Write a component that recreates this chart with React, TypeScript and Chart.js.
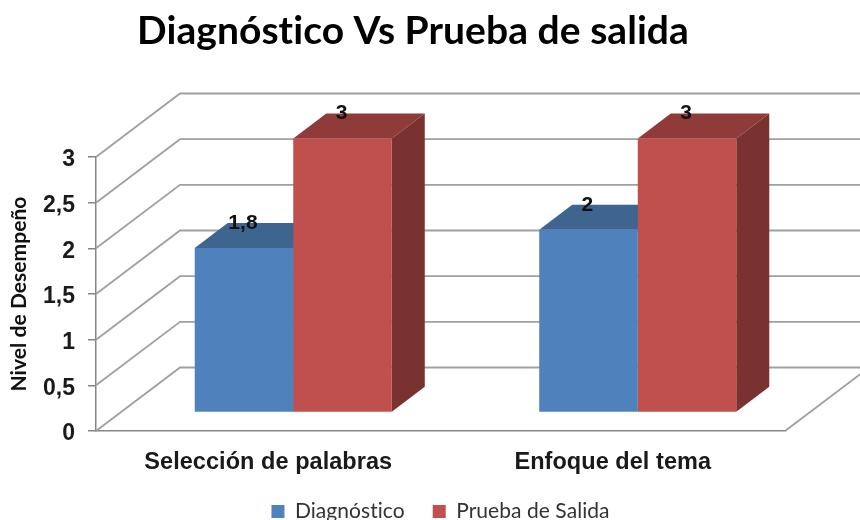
import React, { useEffect, useRef } from "react";
import { Chart, registerables } from "chart.js";

Chart.register(...registerables);

const categories = ["Selección de palabras", "Enfoque del tema"];
const diagnostico = [1.8, 2];
const pruebaSalida = [3, 3];
const diagnosticoLabel = "Diagnóstico";
const pruebaLabel = "Prueba de Salida";
const titleText = "Diagnóstico Vs Prueba de salida";
const yTitleText = "Nivel de Desempeño";

const comma = (v: number | string) => String(v).replace(".", ",");

const faceColors = [
  { top: "#3E658F", side: "#36577E" },
  { top: "#8F3B39", side: "#7A3230" },
];
const GRID = "#A0A0A0";
const AXIS = "#858585";
const WALL_DX = 84;
const WALL_DY = -63.5;
const BAR_DX = 25;
const BAR_DY = -18.5;
const BAR_DEPTH_X = 33;
const BAR_DEPTH_Y = -25;

const threeD = {
  id: "threeD",
  afterLayout(chart: any) {
    chart.titleBlock.left = 41;
    chart.legend.left = 20;
    chart.legend.right = 860;
    chart.legend.top = 473;
    chart.scales.x.bottom = 520;
  },
  beforeDraw(chart: any) {
    chart.ctx.letterSpacing = "0.05px";
  },
  beforeDatasetsDraw(chart: any) {
    const { ctx, chartArea, scales } = chart;
    const y = scales.y;
    const { left, right, bottom } = chartArea;
    ctx.save();
    ctx.strokeStyle = GRID;
    ctx.lineWidth = 1.8;
    y.ticks.forEach((t: any) => {
      const py = y.getPixelForValue(t.value);
      ctx.beginPath();
      ctx.moveTo(left, py);
      ctx.lineTo(left + WALL_DX, py + WALL_DY);
      ctx.lineTo(right + WALL_DX, py + WALL_DY);
      ctx.stroke();
    });
    ctx.beginPath();
    ctx.moveTo(right, bottom);
    ctx.lineTo(right + WALL_DX, bottom + WALL_DY);
    ctx.stroke();
    ctx.restore();

    ctx.save();
    ctx.translate(BAR_DX, BAR_DY);
    chart.data.datasets.forEach((_: any, di: number) => {
      const colors = faceColors[di];
      chart.getDatasetMeta(di).data.forEach((bar: any) => {
        const p = bar.getProps(["x", "y", "base", "width"], true);
        const l = p.x - p.width / 2;
        const r = p.x + p.width / 2;
        ctx.fillStyle = colors.top;
        ctx.beginPath();
        ctx.moveTo(l, p.y);
        ctx.lineTo(l + BAR_DEPTH_X, p.y + BAR_DEPTH_Y);
        ctx.lineTo(r + BAR_DEPTH_X, p.y + BAR_DEPTH_Y);
        ctx.lineTo(r, p.y);
        ctx.closePath();
        ctx.fill();
        ctx.fillStyle = colors.side;
        ctx.beginPath();
        ctx.moveTo(r, p.y);
        ctx.lineTo(r + BAR_DEPTH_X, p.y + BAR_DEPTH_Y);
        ctx.lineTo(r + BAR_DEPTH_X, p.base + BAR_DEPTH_Y);
        ctx.lineTo(r, p.base);
        ctx.closePath();
        ctx.fill();
      });
    });
  },
  afterDatasetsDraw(chart: any) {
    const { ctx } = chart;
    ctx.font = "bold 21px 'Liberation Sans'";
    ctx.fillStyle = "#111111";
    ctx.textAlign = "center";
    ctx.textBaseline = "middle";
    chart.data.datasets.forEach((ds: any, di: number) => {
      chart.getDatasetMeta(di).data.forEach((bar: any, i: number) => {
        const p = bar.getProps(["x", "y"], true);
        ctx.fillText(comma(ds.data[i]), p.x - 1, p.y + BAR_DEPTH_Y);
      });
    });
    ctx.restore();
  },
};

export default function App() {
  const ref = useRef<HTMLCanvasElement>(null);
  useEffect(() => {
    const chart = new Chart(ref.current!, {
      type: "bar",
      data: {
        labels: categories,
        datasets: [
          { label: diagnosticoLabel, data: diagnostico, backgroundColor: "#4F81BD", clip: false },
          { label: pruebaLabel, data: pruebaSalida, backgroundColor: "#C0504D", clip: false },
        ],
      } as any,
      options: {
        responsive: false,
        animation: false,
        layout: { autoPadding: false, padding: { left: 0, right: 75, top: 0, bottom: 0 } },
        datasets: { bar: { categoryPercentage: 0.572, barPercentage: 1 } },
        scales: {
          x: {
            grid: { display: false },
            border: { display: true, color: AXIS, width: 1.5 },
            ticks: {
              padding: 9,
              color: "#1A1A1A",
              font: { family: "'Liberation Sans'", weight: "bold", size: 23.5 },
              maxRotation: 0,
            },
            afterFit(scale: any) {
              scale.height = 89 - scale.chart.legend.height;
            },
          },
          y: {
            min: 0,
            max: 3,
            grid: { drawOnChartArea: false, drawTicks: true, tickLength: 8, color: AXIS, lineWidth: 1.5 },
            border: { display: true, color: AXIS, width: 1.5 },
            ticks: {
              stepSize: 0.5,
              padding: 13,
              labelOffset: 3,
              color: "#1A1A1A",
              font: { family: "'Liberation Sans'", weight: "bold", size: 23 },
              callback: (v: any) => comma(v),
            },
            title: {
              display: true,
              text: yTitleText,
              color: "#111111",
              font: { family: "Lato", weight: "bold", size: 21 },
              padding: { top: 7, bottom: 0 },
            },
            afterFit(scale: any) {
              scale.width = 96;
            },
          },
        },
        plugins: {
          title: {
            display: true,
            text: titleText,
            color: "#000000",
            font: { family: "Lato", weight: "bold", size: 39, lineHeight: 1.2 },
            padding: { top: 8, bottom: 157 - 8 - 46.8 },
          },
          legend: {
            position: "bottom",
            labels: {
              boxWidth: 13,
              boxHeight: 13,
              padding: 28,
              color: "#333333",
              font: { family: "Lato", size: 21 },
            },
          },
          tooltip: { enabled: false },
        },
      } as any,
      plugins: [threeD],
    });
    return () => chart.destroy();
  }, []);
  return (
    <div style={{ position: "absolute", left: 0, top: 0, width: 860, height: 520 }}>
      <canvas ref={ref} width={860} height={520} style={{ display: "block", filter: "blur(0.5px)" }} />
    </div>
  );
}
